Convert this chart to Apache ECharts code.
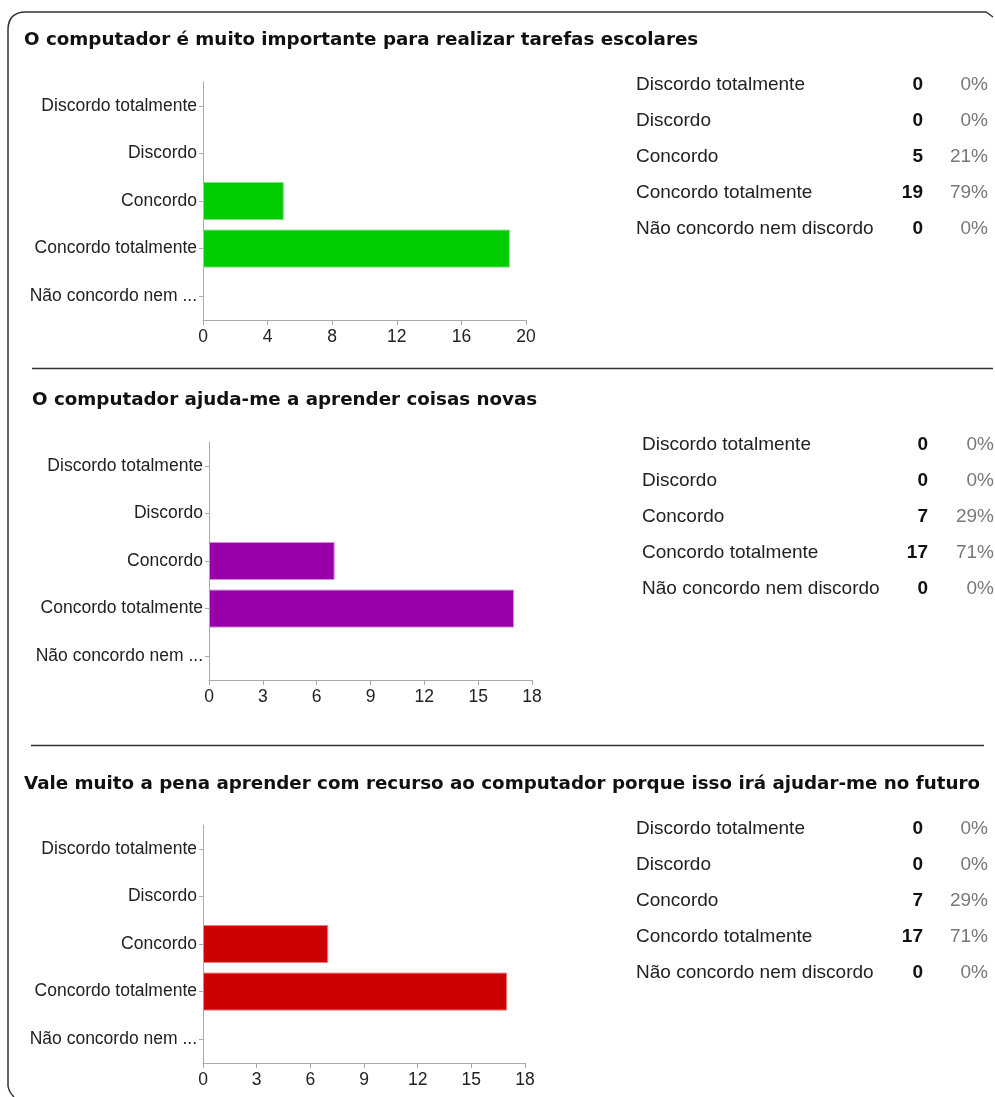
<!DOCTYPE html>
<html>
<head>
<meta charset="utf-8">
<script src="https://cdn.jsdelivr.net/npm/echarts@6/dist/echarts.min.js"></script>
<style>
html,body{margin:0;padding:0;background:#fff;}
#c{width:995px;height:1097px;}
</style>
</head>
<body>
<div id="c"></div>
<script>
// ---- data ----
const categories = ['Discordo totalmente','Discordo','Concordo','Concordo totalmente','Não concordo nem discordo'];
const axisLabels = ['Discordo totalmente','Discordo','Concordo','Concordo totalmente','Não concordo nem ...'];
const titles = [
  'O computador é muito importante para realizar tarefas escolares',
  'O computador ajuda-me a aprender coisas novas',
  'Vale muito a pena aprender com recurso ao computador porque isso irá ajudar-me no futuro'
];
const values1 = [0, 0, 5, 19, 0];
const values2 = [0, 0, 7, 17, 0];
const values3 = [0, 0, 7, 17, 0];
const percents1 = ['0%','0%','21%','79%','0%'];
const percents2 = ['0%','0%','29%','71%','0%'];
const percents3 = ['0%','0%','29%','71%','0%'];
const axisMax = [20, 18, 18];
const axisInterval = [4, 3, 3];

// ---- layout / style ----
const allValues = [values1, values2, values3];
const allPercents = [percents1, percents2, percents3];
const colors = ['#00cc00', '#9900aa', '#cc0000'];
const borders = ['#7ee07e', '#d08ad8', '#e88080'];
const grids = [
  {left: 203, top: 82, width: 323, height: 238},
  {left: 209, top: 442, width: 323, height: 238},
  {left: 203, top: 825, width: 322, height: 238}
];
const titlePos = [[24, 40], [32, 400], [24, 784]];
const tablePos = [
  {x0: 636, xc: 923, xp: 988, y0: 84.5},
  {x0: 642, xc: 928, xp: 994, y0: 444.5},
  {x0: 636, xc: 923, xp: 988, y0: 828.5}
];
const rowStep = 36;

const chart = echarts.init(document.getElementById('c'), null, {renderer: 'canvas'});

const xAxes = [], yAxes = [], series = [];
grids.forEach((g, i) => {
  xAxes.push({
    type: 'value', gridIndex: i, min: 0, max: axisMax[i], interval: axisInterval[i],
    splitLine: {show: false},
    axisLine: {show: true, lineStyle: {color: '#aaaaaa', width: 1}},
    axisTick: {show: true, length: 5, lineStyle: {color: '#aaaaaa'}},
    axisLabel: {color: '#222', fontSize: 17.5, fontFamily: 'Liberation Sans, Arial, sans-serif', margin: 8}
  });
  yAxes.push({
    type: 'category', gridIndex: i, data: axisLabels, inverse: true,
    axisLine: {show: true, lineStyle: {color: '#aaaaaa', width: 1}},
    axisTick: {show: true, alignWithLabel: true, length: 4, lineStyle: {color: '#aaaaaa'}},
    axisLabel: {color: '#222', fontSize: 17.5, fontFamily: 'Liberation Sans, Arial, sans-serif', margin: 6}
  });
  series.push({
    type: 'bar', xAxisIndex: i, yAxisIndex: i, barWidth: 38,
    itemStyle: {color: colors[i]},
    data: allValues[i].map(v => v > 0
      ? {value: v, itemStyle: {borderColor: borders[i], borderWidth: 1}}
      : {value: v}),
    silent: true, animation: false
  });
});

const frameStyle = {fill: null, stroke: '#333', lineWidth: 1.5};
const graphics = [];
// outer frame
graphics.push({type: 'polyline', silent: true, shape: {points: [[8, 1086], [8, 30]]}, style: frameStyle});
graphics.push({type: 'bezierCurve', silent: true, shape: {x1: 8, y1: 30, cpx1: 8, cpy1: 12, x2: 26, y2: 12}, style: frameStyle});
graphics.push({type: 'polyline', silent: true, shape: {points: [[26, 12], [986, 12], [993, 17]]}, style: frameStyle});
graphics.push({type: 'bezierCurve', silent: true, shape: {x1: 8, y1: 1086, cpx1: 9, cpy1: 1092, x2: 14, y2: 1097}, style: frameStyle});
// separators
graphics.push({type: 'line', silent: true, shape: {x1: 32, y1: 368.5, x2: 993, y2: 368.5}, style: {stroke: '#333', lineWidth: 1.5}});
graphics.push({type: 'line', silent: true, shape: {x1: 31, y1: 745.5, x2: 984, y2: 745.5}, style: {stroke: '#333', lineWidth: 1.5}});

titles.forEach((t, i) => {
  graphics.push({
    type: 'text', silent: true, x: titlePos[i][0], y: titlePos[i][1],
    style: {text: t, fill: '#111', font: 'bold 18.3px "DejaVu Sans", sans-serif', textAlign: 'left', textVerticalAlign: 'middle'}
  });
});

tablePos.forEach((p, i) => {
  categories.forEach((c, r) => {
    const y = p.y0 + r * rowStep;
    graphics.push({type: 'text', silent: true, x: p.x0, y: y,
      style: {text: c, fill: '#222', font: '19px "Liberation Sans", Arial, sans-serif', textAlign: 'left', textVerticalAlign: 'middle'}});
    graphics.push({type: 'text', silent: true, x: p.xc, y: y,
      style: {text: String(allValues[i][r]), fill: '#111', font: 'bold 19px "Liberation Sans", Arial, sans-serif', textAlign: 'right', textVerticalAlign: 'middle'}});
    graphics.push({type: 'text', silent: true, x: p.xp, y: y,
      style: {text: allPercents[i][r], fill: '#777', font: '19px "Liberation Sans", Arial, sans-serif', textAlign: 'right', textVerticalAlign: 'middle'}});
  });
});

chart.setOption({
  animation: false,
  backgroundColor: '#ffffff',
  grid: grids.map(g => Object.assign({containLabel: false}, g)),
  xAxis: xAxes,
  yAxis: yAxes,
  series: series,
  graphic: graphics
});
</script>
</body>
</html>
